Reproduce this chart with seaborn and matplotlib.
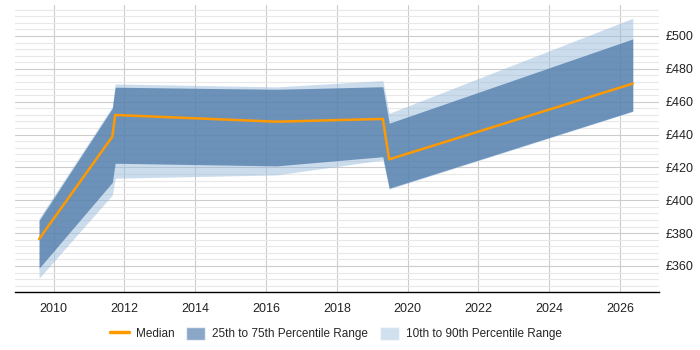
import numpy as np
import pandas as pd
import seaborn as sns
import matplotlib.pyplot as plt
from matplotlib.ticker import MultipleLocator, FuncFormatter
from matplotlib.lines import Line2D
from matplotlib.patches import Patch

# values
years = [2009.59, 2011.66, 2011.74, 2016.3, 2019.3, 2019.48, 2026.36]
median = [376.4, 438.7, 451.9, 447.8, 449.5, 424.9, 471.0]
p25 = [358.6, 410.9, 422.5, 420.9, 426.5, 407.3, 454.3]
p75 = [387.6, 456.0, 468.8, 467.5, 469.1, 446.9, 498.2]
p10 = [352.5, 403.2, 413.4, 415.4, 424.5, 406.8, 454.0]
p90 = [389.0, 457.0, 470.8, 469.0, 472.8, 452.9, 510.8]

df = pd.DataFrame({"year": years, "median": median})

sns.set_style("white")
plt.rcParams["font.family"] = ["Liberation Sans", "DejaVu Sans"]

fig = plt.figure(figsize=(7, 3.5), dpi=100)
ax = fig.add_axes([0.0214, 0.166, 0.92, 0.82])

ax.fill_between(years, p10, p90, color="#99BBDD", alpha=0.5, linewidth=0)
ax.fill_between(years, p25, p75, color="#4C79A9", alpha=0.75, linewidth=0)
sns.lineplot(data=df, x="year", y="median", color="#FF9900", linewidth=1.8, ax=ax)

ax.set_xlim(2008.91, 2027.1)
ax.set_ylim(344.2, 518.9)

ax.xaxis.set_major_locator(MultipleLocator(2))
ax.yaxis.set_major_locator(MultipleLocator(20))
ax.yaxis.set_minor_locator(MultipleLocator(4))
ax.yaxis.set_major_formatter(FuncFormatter(lambda v, p: f"£{v:.0f}"))
ax.yaxis.tick_right()

ax.set_axisbelow(True)
ax.grid(axis="x", which="major", color="#cccccc", linewidth=0.8)
ax.grid(axis="y", which="major", color="#cccccc", linewidth=0.8)
ax.grid(axis="y", which="minor", color="#e8e8e8", linewidth=0.8)

for s in ["top", "left", "right"]:
    ax.spines[s].set_visible(False)
ax.spines["bottom"].set_color("black")
ax.spines["bottom"].set_linewidth(1)

ax.tick_params(axis="both", which="both", length=0, labelsize=9, colors="#222222")
ax.tick_params(axis="x", pad=8)
ax.tick_params(axis="y", pad=5)
ax.set_xlabel("")
ax.set_ylabel("")

handles = [
    Line2D([0], [0], color="#FF9900", linewidth=2.5),
    Patch(facecolor="#4C79A9", alpha=0.65),
    Patch(facecolor="#99BBDD", alpha=0.45),
]
labels = ["Median", "25th to 75th Percentile Range", "10th to 90th Percentile Range"]
fig.legend(handles, labels, loc="center", bbox_to_anchor=(0.48, 0.047), ncol=3,
           frameon=False, fontsize=8.5, handlelength=1.6, handleheight=1.4,
           columnspacing=1.0, handletextpad=0.6)

fig.savefig("out.png", dpi=100)
